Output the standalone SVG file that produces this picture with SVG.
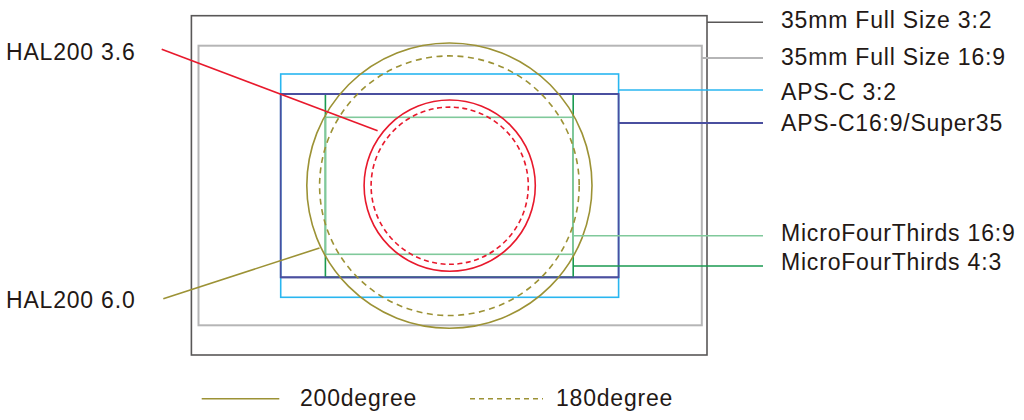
<svg xmlns="http://www.w3.org/2000/svg" width="1024" height="420" viewBox="0 0 1024 420">
<style>
  text { font-family: "Liberation Sans", Arial, sans-serif; font-size: 23px; letter-spacing: 0.8px; fill: #231815; }
  .f { fill: none; }
  .outer { stroke: #595757; stroke-width: 1.6; }
  .gray { stroke: #b5b5b6; stroke-width: 2; }
  .cyan { stroke: #29b6f0; stroke-width: 1.6; }
  .navy { stroke: #4a4f9f; stroke-width: 1.8; }
  .dgreen { stroke: #1a9a50; stroke-width: 1.6; }
  .lgreen { stroke: #80c99b; stroke-width: 1.6; }
  .olive { stroke: #9c9235; stroke-width: 1.6; }
  .red { stroke: #e8192c; stroke-width: 1.6; }
  .dash-o { stroke-dasharray: 6 4.5; }
  .dash-r { stroke-dasharray: 5 3.5; }
</style>
<rect width="1024" height="420" fill="#ffffff"/>

<g id="full-3-2">
  <rect class="f outer" x="191.4" y="15.7" width="515.6" height="339.3"/>
  <text x="781" y="28">35mm Full Size 3:2</text>
</g>
<g id="full-16-9">
  <rect class="f gray" x="198.5" y="45.7" width="503.3" height="279.6"/>
  <text x="781" y="64.5">35mm Full Size 16:9</text>
</g>
<g id="apsc-3-2">
  <rect class="f cyan" x="280.7" y="74" width="337.9" height="223.3"/>
  <text x="781" y="99.5">APS-C 3:2</text>
</g>
<g id="apsc-16-9">
  <rect class="f navy" x="280.7" y="94" width="337.9" height="183.3"/>
  <text x="781" y="130.5">APS-C16:9/Super35</text>
</g>
<g id="mft-4-3">
  <rect class="f dgreen" x="325.4" y="94" width="247.8" height="183.3"/>
  <text x="781" y="269.5">MicroFourThirds 4:3</text>
</g>
<g id="mft-16-9">
  <rect class="f lgreen" x="325.4" y="117.3" width="247.8" height="137"/>
  <text x="781" y="241">MicroFourThirds 16:9</text>
</g>
<g id="navy-top">
  <line class="navy" x1="280.7" y1="94" x2="618.6" y2="94"/>
  <line class="navy" x1="280.7" y1="277.3" x2="618.6" y2="277.3"/>
</g>

<g id="hal200-6-0">
  <circle class="f olive" cx="449.4" cy="185.6" r="142.6"/>
  <circle class="f olive dash-o" cx="449.4" cy="185.7" r="129.8"/>
  <text x="6" y="307.5">HAL200 6.0</text>
</g>
<g id="hal200-3-6">
  <circle class="f red" cx="449.7" cy="185.6" r="85.6"/>
  <circle class="f red dash-r" cx="449.7" cy="185.7" r="78.6"/>
  <text x="6" y="59.5">HAL200 3.6</text>
</g>

<g id="connectors">
  <line class="outer" x1="707" y1="22.3" x2="763" y2="22.3"/>
  <line class="gray" x1="701.8" y1="58" x2="763" y2="58" stroke-width="1.6"/>
  <line class="cyan" x1="618.6" y1="90" x2="763" y2="90"/>
  <line class="navy" x1="618.6" y1="123" x2="763" y2="123"/>
  <line class="lgreen" x1="573.2" y1="235.7" x2="763" y2="235.7"/>
  <line class="dgreen" x1="573.2" y1="266" x2="763" y2="266"/>
  <line class="red" x1="161.7" y1="49.3" x2="377.6" y2="130.7"/>
  <line class="olive" x1="163.3" y1="298.7" x2="319.5" y2="248"/>
</g>

<g id="legend">
  <line class="olive" x1="201.7" y1="398.7" x2="279.3" y2="398.7" stroke-width="2.6"/>
  <text x="300" y="406">200degree</text>
  <line class="olive" x1="470" y1="398.7" x2="543" y2="398.7" stroke-width="2" stroke-dasharray="5 4"/>
  <text x="556" y="406">180degree</text>
</g>
</svg>
